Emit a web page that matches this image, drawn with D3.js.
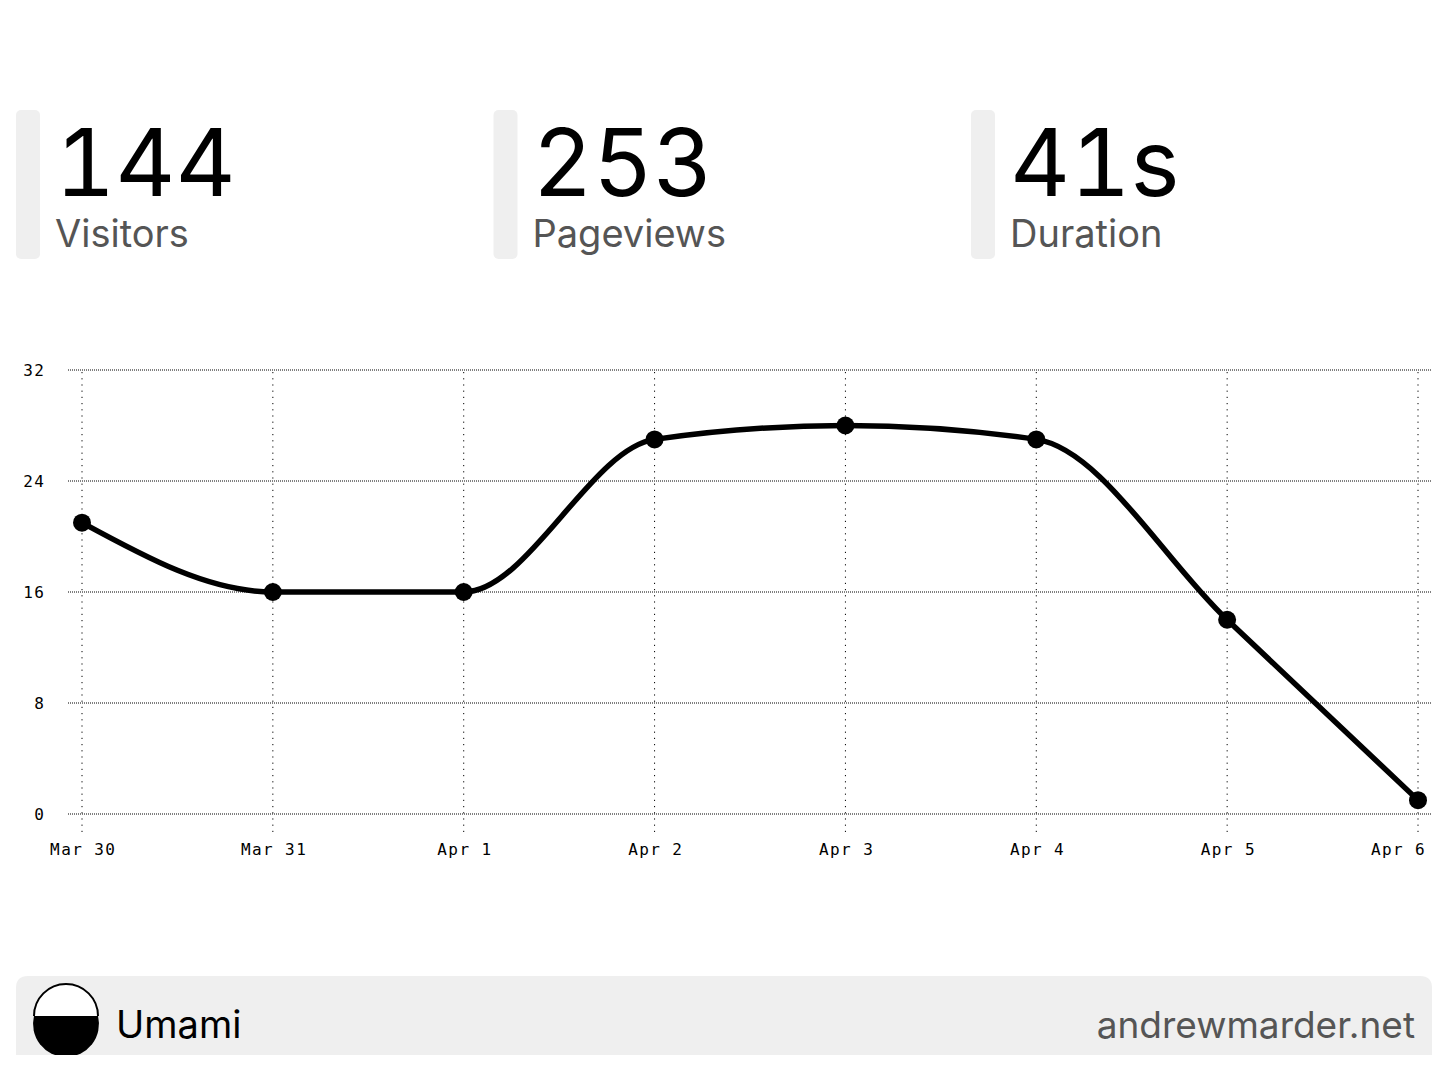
<!DOCTYPE html>
<html><head><meta charset="utf-8">
<script src="https://cdn.jsdelivr.net/npm/d3@7"></script>
<style>
html,body{margin:0;padding:0;background:#fff;}
svg{display:block;}
</style></head>
<body>
<svg id="c" width="1448" height="1072"></svg>
<script>
const dates = ["Mar 30","Mar 31","Apr 1","Apr 2","Apr 3","Apr 4","Apr 5","Apr 6"];
const visitors = [21,16,16,27,28,27,14,1];
const yTicks = [0,8,16,24,32];
const statValues = ["144","253","41s"];
const statLabels = ["Visitors","Pageviews","Duration"];
const footerLeft = "Umami";
const footerRight = "andrewmarder.net";

const svg = d3.select("#c");
const sans = "Inter, 'Noto Sans', sans-serif";
const mono = "'DejaVu Sans Mono', 'Liberation Mono', monospace";

// Stat cards
const cardX = d3.scalePoint().domain(statLabels).range([16, 971]);
const cards = svg.selectAll("g.card").data(statLabels).join("g")
  .attr("class","card").attr("transform", d => `translate(${cardX(d)},110)`);
cards.append("rect").attr("width",24).attr("height",149).attr("rx",5).attr("fill","#efefef");
cards.append("text").attr("x",39).attr("y",86)
  .attr("font-family",sans).attr("font-size",93).attr("fill","#000")
  .style("font-variant-numeric","tabular-nums")
  .text((d,i)=>statValues[i]);
cards.append("text").attr("x",39).attr("y",137)
  .attr("font-family",sans).attr("font-size",38).attr("fill","#555")
  .text(d=>d);

// Chart
const x = d3.scalePoint().domain(dates).range([82,1418]);
const y = d3.scaleLinear().domain([0,32]).range([814,370]);

const g = svg.append("g");
g.selectAll("line.h").data(yTicks).join("line").attr("class","h")
  .attr("x1",68).attr("x2",1432).attr("y1",d=>y(d)).attr("y2",d=>y(d))
  .attr("stroke","#000").attr("stroke-width",1).attr("stroke-dasharray","1,1");
g.selectAll("line.v").data(dates).join("line").attr("class","v")
  .attr("x1",d=>x(d)).attr("x2",d=>x(d)).attr("y1",372).attr("y2",832)
  .attr("stroke","#000").attr("stroke-width",1).attr("stroke-dasharray","1.2,5");

const yAxis = d3.axisLeft(y).tickValues(yTicks).tickSize(0).tickPadding(0);
const ya = svg.append("g").attr("transform","translate(45,0)").call(yAxis);
ya.select(".domain").remove();
ya.selectAll("text").attr("font-family",mono).attr("font-size",16).attr("fill","#000")
  .attr("letter-spacing",1.2).attr("dy","0.36em");

const xAxis = d3.axisBottom(x).tickSize(0).tickPadding(0);
const xa = svg.append("g").attr("transform","translate(0,844)").call(xAxis);
xa.select(".domain").remove();
xa.selectAll("text").attr("font-family",mono).attr("font-size",16).attr("fill","#000")
  .attr("letter-spacing",1.4).attr("dx","0.7").attr("dy","0.71em");
xa.selectAll(".tick").filter((d,i,n)=>i===n.length-1).select("text").attr("dx",-20);

const line = d3.line().x((d,i)=>x(dates[i])).y(d=>y(d)).curve(d3.curveMonotoneX);
svg.append("path").datum(visitors).attr("d",line)
  .attr("fill","none").attr("stroke","#000").attr("stroke-width",5.5).attr("stroke-linejoin","round");
svg.selectAll("circle.pt").data(visitors).join("circle").attr("class","pt")
  .attr("cx",(d,i)=>x(dates[i])).attr("cy",d=>y(d)).attr("r",9).attr("fill","#000");

// Footer
const f = svg.append("g");
f.append("path").attr("d","M16,1055 V988 Q16,976 28,976 H1420 Q1432,976 1432,988 V1055 Z").attr("fill","#efefef");
const cx=66, cy=1024, r=33;
f.append("path").attr("d",`M${cx-r+1},${cy-8} A${r-1},${r-1} 0 0 1 ${cx+r-1},${cy-8}`).attr("fill","#fff").attr("stroke","#000").attr("stroke-width",2);
f.append("path").attr("d",(()=>{const a=Math.asin(8/r);const dx=r*Math.cos(a);return `M${cx-dx},${cy-8} H${cx+dx} A${r},${r} 0 1 1 ${cx-dx},${cy-8} Z`;})()).attr("fill","#000");
f.append("rect").attr("x",16).attr("y",1055).attr("width",1432).attr("height",17).attr("fill","#fff");
f.append("text").attr("x",116).attr("y",1038).attr("font-family",sans).attr("font-size",38).attr("fill","#000").text(footerLeft);
f.append("text").attr("x",1415).attr("y",1038).attr("text-anchor","end").attr("font-family",sans).attr("font-size",37).attr("fill","#555").text(footerRight);
</script>
</body></html>
